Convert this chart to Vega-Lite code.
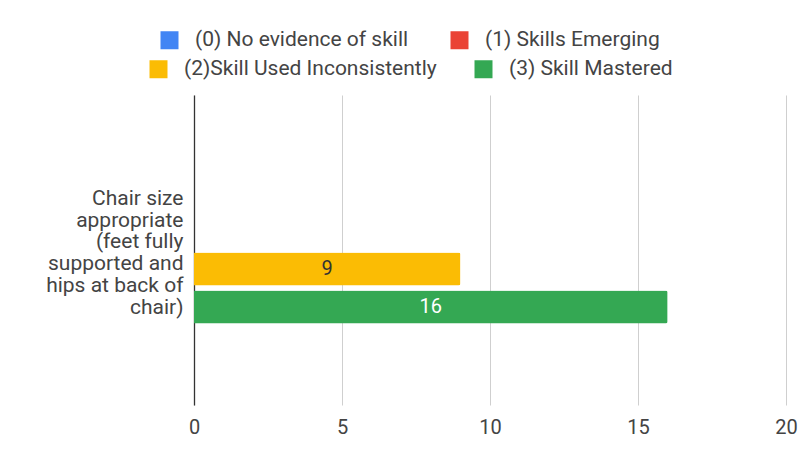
{
  "$schema": "https://vega.github.io/schema/vega-lite/v6.json",
  "width": 592,
  "height": 310,
  "autosize": {"type": "none"},
  "padding": {"left": 194, "top": 95, "right": 12, "bottom": 52},
  "background": "white",
  "data": {
    "values": [
      {"category": "Chair size\nappropriate\n(feet fully\nsupported and\nhips at back of\nchair)", "series": "(0) No evidence of skill", "value": 0},
      {"category": "Chair size\nappropriate\n(feet fully\nsupported and\nhips at back of\nchair)", "series": "(1) Skills Emerging", "value": 0},
      {"category": "Chair size\nappropriate\n(feet fully\nsupported and\nhips at back of\nchair)", "series": "(2)Skill Used Inconsistently", "value": 9},
      {"category": "Chair size\nappropriate\n(feet fully\nsupported and\nhips at back of\nchair)", "series": "(3) Skill Mastered", "value": 16}
    ]
  },
  "encoding": {
    "y": {
      "field": "category",
      "type": "nominal",
      "scale": {"paddingOuter": 0.555, "paddingInner": 0},
      "axis": {
        "title": null,
        "ticks": false,
        "grid": false,
        "domain": true,
        "domainColor": "#333333",
        "domainWidth": 1.3,
        "labelExpr": "split(datum.label, '\\n')",
        "labelFontSize": 21,
        "labelLineHeight": 21.7,
        "labelColor": "#444444",
        "labelPadding": 11,
        "labelBaseline": "middle",
        "labelOffset": -51,
        "labelLimit": 0
      }
    },
    "yOffset": {
      "field": "series",
      "type": "nominal",
      "scale": {
        "domain": ["(0) No evidence of skill", "(1) Skills Emerging", "(2)Skill Used Inconsistently", "(3) Skill Mastered"],
        "paddingInner": 0.13,
        "paddingOuter": 0
      }
    }
  },
  "layer": [
    {
      "transform": [{"filter": "datum.series === '(0) No evidence of skill' || datum.series === '(1) Skills Emerging'"}],
      "mark": {"type": "bar", "cornerRadiusEnd": 2},
      "encoding": {
        "x": {
          "field": "value",
          "type": "quantitative",
          "scale": {"domain": [0, 20]},
          "axis": {
            "title": null,
            "values": [0, 5, 10, 15, 20],
            "domain": false,
            "ticks": false,
            "grid": true,
            "gridColor": "#cfcfcf",
            "labelFontSize": 20,
            "labelColor": "#444444",
            "labelPadding": 12,
            "labelFlush": false
          }
        },
        "color": {
          "field": "series",
          "type": "nominal",
          "scale": {"domain": ["(0) No evidence of skill", "(1) Skills Emerging"], "range": ["#4285F4", "#EA4335"]},
          "legend": {
            "title": null,
            "orient": "none",
            "direction": "horizontal",
            "legendX": -35,
            "legendY": -65.5,
            "symbolType": "square",
            "symbolSize": 324,
            "symbolStrokeWidth": 0,
            "symbolOpacity": 1,
            "labelFontSize": 21,
            "labelColor": "#444444",
            "labelOffset": 15,
            "columnPadding": 40,
            "padding": 0,
            "labelLimit": 0
          }
        }
      }
    },
    {
      "transform": [{"filter": "datum.series === '(2)Skill Used Inconsistently' || datum.series === '(3) Skill Mastered'"}],
      "mark": {"type": "bar", "cornerRadiusEnd": 2},
      "encoding": {
        "x": {"field": "value", "type": "quantitative"},
        "fill": {
          "field": "series",
          "type": "nominal",
          "scale": {"domain": ["(2)Skill Used Inconsistently", "(3) Skill Mastered"], "range": ["#FBBC04", "#34A853"]},
          "legend": {
            "title": null,
            "orient": "none",
            "direction": "horizontal",
            "legendX": -46,
            "legendY": -36.5,
            "symbolType": "square",
            "symbolSize": 324,
            "symbolStrokeWidth": 0,
            "symbolOpacity": 1,
            "labelFontSize": 21,
            "labelColor": "#444444",
            "labelOffset": 15,
            "columnPadding": 36,
            "padding": 0,
            "labelLimit": 0
          }
        }
      }
    },
    {
      "transform": [
        {"filter": "datum.value > 0"},
        {"calculate": "datum.value / 2", "as": "mid"}
      ],
      "mark": {"type": "text", "fontSize": 20, "baseline": "middle", "align": "center"},
      "encoding": {
        "x": {"field": "mid", "type": "quantitative"},
        "text": {"field": "value", "type": "quantitative"},
        "color": {
          "condition": {"test": "datum.series === '(3) Skill Mastered'", "value": "#ffffff"},
          "value": "#333333"
        }
      }
    }
  ],
  "config": {
    "font": "Roboto",
    "view": {"stroke": null}
  }
}
